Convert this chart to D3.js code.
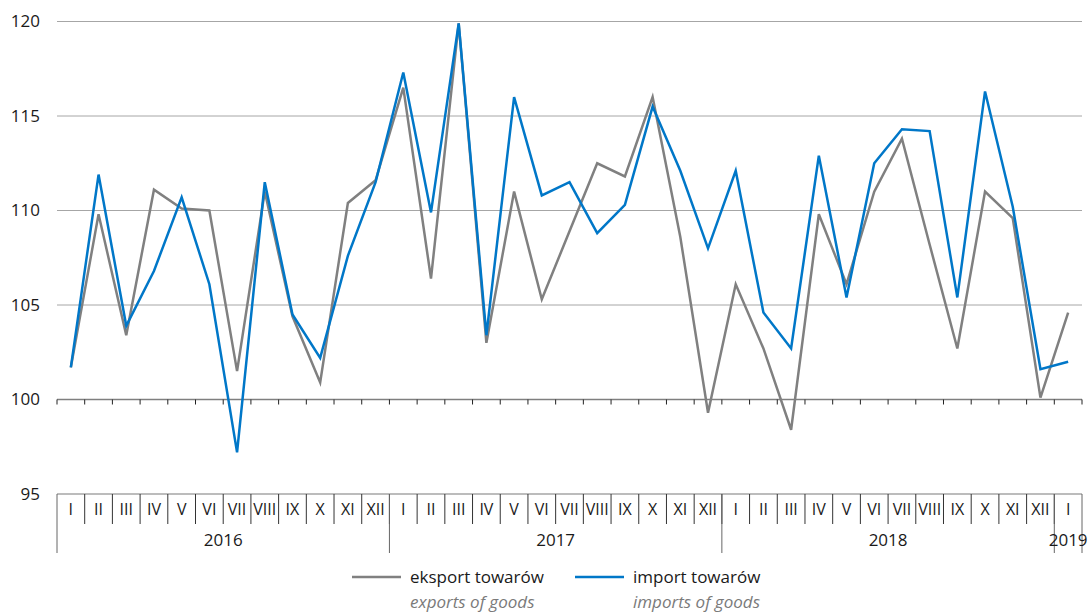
<!DOCTYPE html>
<html>
<head>
<meta charset="utf-8">
<script src="https://cdn.jsdelivr.net/npm/d3@7"></script>
<style>
  body { margin: 0; background: #fff; }
  svg { font-family: "Open Sans", "Noto Sans", sans-serif; }
</style>
</head>
<body>
<div id="chart"></div>
<script>
// months shown on the category axis
var months = ['I','II','III','IV','V','VI','VII','VIII','IX','X','XI','XII']
var years = [
	{ label: '2016', count: 12 },
	{ label: '2017', count: 12 },
	{ label: '2018', count: 12 },
	{ label: '2019', count: 1 }
]
var yTicks = [95, 100, 105, 110, 115, 120]

// eksport towarów / exports of goods
var exportValues = [101.7, 109.8, 103.4, 111.1, 110.1, 110.0, 101.5, 111.0, 104.4, 100.9, 110.4, 111.6,
	116.5, 106.4, 119.9, 103.0, 111.0, 105.3, 108.9, 112.5, 111.8, 116.0, 108.6, 99.3,
	106.1, 102.7, 98.4, 109.8, 106.1, 111.0, 113.8, 108.2, 102.7, 111.0, 109.6, 100.1,
	104.6]
// import towarów / imports of goods
var importValues = [101.7, 111.9, 103.9, 106.8, 110.7, 106.1, 97.2, 111.5, 104.5, 102.2, 107.6, 111.5,
	117.3, 109.9, 119.9, 103.4, 116.0, 110.8, 111.5, 108.8, 110.3, 115.5, 112.1, 108.0,
	112.1, 104.6, 102.7, 112.9, 105.4, 112.5, 114.3, 114.2, 105.4, 116.3, 110.2, 101.6,
	102.0]

var width = 1088, height = 612
var plotLeft = 57, plotRight = 1082, plotTop = 21.5, plotBottom = 494

// flat list of categories
var cats = []
years.forEach(function (yr) {
	for (var m = 0; m < yr.count; m++) cats.push({ key: yr.label + '-' + m, month: months[m], year: yr.label })
})

var x = d3.scaleBand()
	.domain(cats.map(d => d.key))
	.range([plotLeft, plotRight])
var y = d3.scaleLinear()
	.domain([95, 120])
	.range([plotBottom, plotTop])

var svg = d3.select('#chart').append('svg')
	.attr('width', width).attr('height', height)

// gridlines
svg.append('g').selectAll('line')
	.data(yTicks.filter(d => d > 100))
	.enter().append('line')
	.attr('x1', plotLeft).attr('x2', plotRight)
	.attr('y1', d => y(d)).attr('y2', d => y(d))
	.attr('stroke', '#a6a6a6').attr('stroke-width', 1)

// y labels
svg.append('g').selectAll('text')
	.data(yTicks)
	.enter().append('text')
	.attr('x', 40).attr('y', d => y(d))
	.attr('dy', '0.35em')
	.attr('text-anchor', 'end')
	.attr('font-size', 17)
	.attr('fill', '#1a1a1a')
	.text(d => d)

// line at 100 with ticks
svg.append('line')
	.attr('x1', plotLeft).attr('x2', plotRight)
	.attr('y1', y(100)).attr('y2', y(100))
	.attr('stroke', '#7f7f7f').attr('stroke-width', 1.5)
svg.append('g').selectAll('line')
	.data(cats.map(d => x(d.key)).concat([plotRight]))
	.enter().append('line')
	.attr('x1', d => d).attr('x2', d => d)
	.attr('y1', y(100)).attr('y2', y(100) + 5)
	.attr('stroke', '#222').attr('stroke-width', 1)

// category table
var table = svg.append('g')
table.append('line')
	.attr('x1', plotLeft).attr('x2', plotRight)
	.attr('y1', plotBottom).attr('y2', plotBottom)
	.attr('stroke', '#a6a6a6').attr('stroke-width', 1.5)

table.selectAll('.msep')
	.data(cats.slice(1))
	.enter().append('line')
	.attr('class', 'msep')
	.attr('x1', d => x(d.key)).attr('x2', d => x(d.key))
	.attr('y1', plotBottom).attr('y2', plotBottom + 30)
	.attr('stroke', '#333').attr('stroke-width', 1)

table.selectAll('.mlab')
	.data(cats)
	.enter().append('text')
	.attr('class', 'mlab')
	.attr('x', d => x(d.key) + x.bandwidth() / 2)
	.attr('y', plotBottom + 15)
	.attr('dy', '0.35em')
	.attr('text-anchor', 'middle')
	.attr('font-size', 16)
	.attr('fill', '#1a1a1a')
	.text(d => d.month)

// year groups
var idx = 0
var yearPos = years.map(function (yr) {
	var start = x(cats[idx].key)
	idx += yr.count
	var end = idx < cats.length ? x(cats[idx].key) : plotRight
	return { label: yr.label, start: start, end: end }
})
table.selectAll('.ysep')
	.data(yearPos.map(d => d.start).concat([plotRight]))
	.enter().append('line')
	.attr('class', 'ysep')
	.attr('x1', d => d).attr('x2', d => d)
	.attr('y1', plotBottom).attr('y2', plotBottom + 59)
	.attr('stroke', '#666').attr('stroke-width', 1)
table.selectAll('.ylab')
	.data(yearPos)
	.enter().append('text')
	.attr('class', 'ylab')
	.attr('x', d => (d.start + d.end) / 2)
	.attr('y', plotBottom + 46)
	.attr('dy', '0.35em')
	.attr('text-anchor', 'middle')
	.attr('font-size', 17)
	.attr('fill', '#1a1a1a')
	.text(d => d.label)

// series
var line = d3.line()
	.x((d, i) => x(cats[i].key) + x.bandwidth() / 2)
	.y(d => y(d))

svg.append('path')
	.datum(exportValues)
	.attr('d', line)
	.attr('fill', 'none')
	.attr('stroke', '#808080')
	.attr('stroke-width', 2.5)

svg.append('path')
	.datum(importValues)
	.attr('d', line)
	.attr('fill', 'none')
	.attr('stroke', '#0077c8')
	.attr('stroke-width', 2.5)

// legend
var legend = [
	{ x: 352, color: '#808080', pl: 'eksport towarów', en: 'exports of goods' },
	{ x: 575, color: '#0077c8', pl: 'import towarów', en: 'imports of goods' }
]
var lg = svg.append('g').selectAll('g')
	.data(legend)
	.enter().append('g')
	.attr('transform', d => `translate(${d.x}, 577)`)
lg.append('line')
	.attr('x1', 0).attr('x2', 49)
	.attr('stroke', d => d.color).attr('stroke-width', 2.5)
lg.append('text')
	.attr('x', 58).attr('dy', '0.35em')
	.attr('font-size', 17)
	.attr('fill', '#1a1a1a')
	.text(d => d.pl)
lg.append('text')
	.attr('x', 58).attr('y', 25).attr('dy', '0.35em')
	.attr('font-size', 17)
	.attr('font-style', 'italic')
	.attr('fill', '#7a7a7a')
	.text(d => d.en)
</script>
</body>
</html>
